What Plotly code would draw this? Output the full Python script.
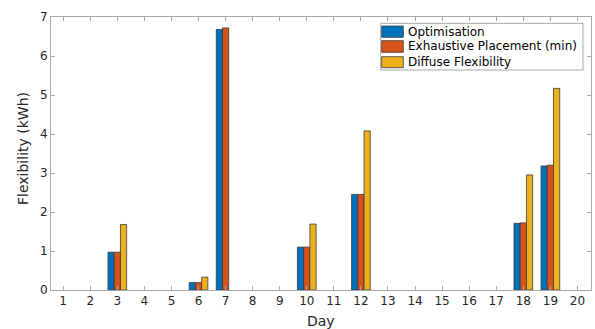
import plotly.graph_objects as go

days = list(range(1, 21))
optimisation = [None, None, 0.97, None, None, 0.19, 6.68, None, None, 1.10, None, 2.45, None, None, None, None, None, 1.71, 3.18, None]
exhaustive = [None, None, 0.97, None, None, 0.19, 6.72, None, None, 1.10, None, 2.45, None, None, None, None, None, 1.72, 3.20, None]
diffuse = [None, None, 1.68, None, None, 0.33, None, None, None, 1.69, None, 4.08, None, None, None, None, None, 2.95, 5.17, None]

names = ["Optimisation", "Exhaustive Placement (min)", "Diffuse Flexibility"]
colors = ["#0072BD", "#D95319", "#EDB120"]
series = [optimisation, exhaustive, diffuse]

W, H = 595, 329
L, R, T, B = 51, 4, 17, 39
PW, PH = W - L - R, H - T - B
FONT = "DejaVu Sans, Verdana, sans-serif"


def px(xp):
    return (xp - L) / PW


def py(yp):
    return (H - B - yp) / PH


fig = go.Figure()
for name, vals, col in zip(names, series, colors):
    fig.add_trace(go.Bar(
        x=days, y=vals, name=name, showlegend=False,
        marker=dict(color=col, line=dict(color="#3a3a3a", width=0.8)),
    ))

axis_common = dict(
    showline=True, linecolor="#a8a8a8", linewidth=1, mirror="ticks",
    ticks="inside", ticklen=4, tickcolor="#a8a8a8",
    showgrid=False, zeroline=False, automargin=False,
    tickfont=dict(family=FONT, size=12, color="#262626"),
)

shapes = []
annotations = []
# legend box
shapes.append(dict(type="rect", xref="paper", yref="paper",
                   x0=px(380.7), x1=px(583), y0=py(70), y1=py(23.3),
                   line=dict(color="#a8a8a8", width=1), fillcolor="white", layer="above"))
rows = [(26, 37.3), (40.7, 52.3), (56.7, 67.7)]
for (top, bot), name, col in zip(rows, names, colors):
    shapes.append(dict(type="rect", xref="paper", yref="paper",
                       x0=px(381.7), x1=px(403.3), y0=py(bot), y1=py(top),
                       line=dict(color="#3a3a3a", width=0.8), fillcolor=col, layer="above"))
    annotations.append(dict(xref="paper", yref="paper", x=px(405.5), y=py((top + bot) / 2),
                            xanchor="left", yanchor="middle", text=name, showarrow=False,
                            font=dict(family=FONT, size=12, color="#000000")))

annotations.append(dict(xref="paper", yref="paper", x=px((L + W - R) / 2), y=py(321),
                        xanchor="center", yanchor="middle", text="Day", showarrow=False,
                        font=dict(family=FONT, size=14, color="#262626")))
annotations.append(dict(xref="paper", yref="paper", x=px(23), y=py(149),
                        xanchor="center", yanchor="middle", text="Flexibility (kWh)",
                        textangle=-90, showarrow=False,
                        font=dict(family=FONT, size=14, color="#262626")))

fig.update_layout(
    width=W, height=H,
    margin=dict(l=L, r=R, t=T, b=B),
    paper_bgcolor="white", plot_bgcolor="white",
    barmode="group", bargap=0.31, bargroupgap=0,
    font=dict(family=FONT, color="#262626"),
    showlegend=False,
    xaxis=dict(range=[0.55, 20.5], tickmode="array", tickvals=days, **axis_common),
    yaxis=dict(range=[0, 7], tickmode="array", tickvals=list(range(0, 8)), **axis_common),
    shapes=shapes,
    annotations=annotations,
)

fig.write_html("out.html", config={"displayModeBar": False},
               post_script="document.body.style.margin='0';document.body.style.overflow='hidden';")
